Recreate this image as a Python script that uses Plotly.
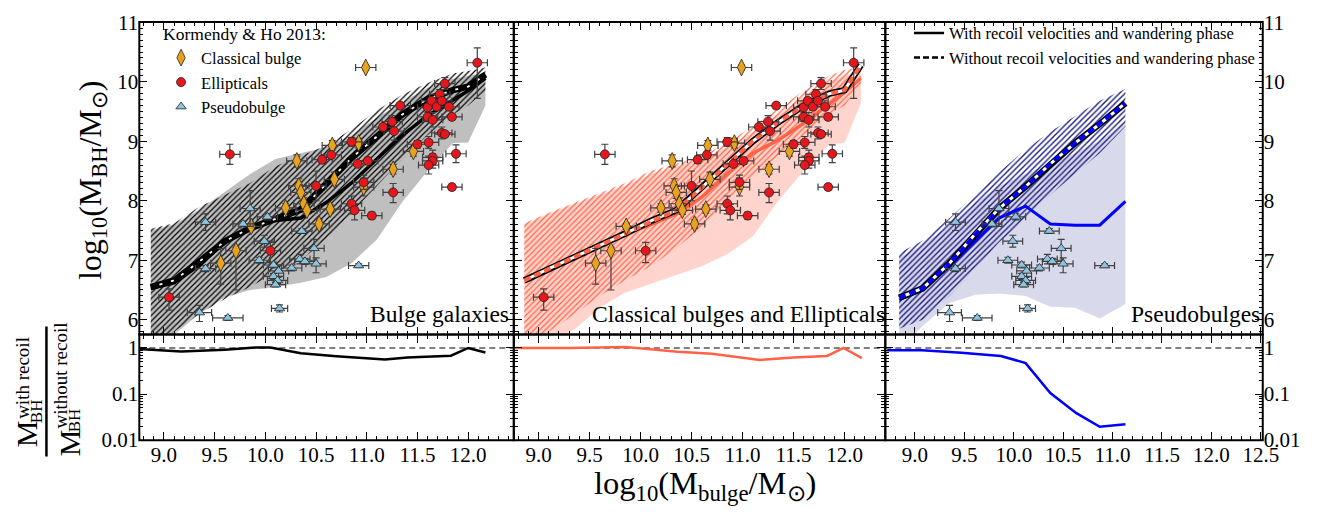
import plotly.graph_objects as go

# ---------------- Observational data: Kormendy & Ho 2013 ----------------
# Classical bulges
cb_x = [10.99, 10.66, 10.92, 10.31, 10.68, 10.33, 10.35, 10.38, 10.20, 10.41, 10.64, 10.53, 9.86, 9.71, 9.56, 10.97, 11.26, 11.46]
cb_y = [10.24, 8.93, 8.97, 8.67, 8.36, 8.25, 8.14, 7.95, 7.88, 7.84, 7.86, 7.61, 7.57, 7.16, 6.95, 8.23, 8.53, 8.83]
cb_ylo = [0.04, 0.08, 0.08, 0.10, 0.10, 0.12, 0.10, 0.10, 0.07, 0.07, 0.07, 0.07, 0.05, 0.66, 0.35, 0.15, 0.08, 0.08]
cb_yhi = [0.04, 0.08, 0.08, 0.10, 0.12, 0.12, 0.10, 0.10, 0.07, 0.07, 0.07, 0.07, 0.05, 0.06, 0.25, 0.15, 0.08, 0.08]
cb_xerr = [0.10] * 18

# Ellipticals
el_x = [9.65, 9.05, 10.05, 10.50, 10.56, 10.65, 10.85, 10.91, 11.01, 10.97, 10.85, 10.88, 11.05, 11.26, 11.16,
        11.25, 11.27, 11.33, 11.50, 11.61, 11.65, 11.65, 11.61, 11.60, 11.64, 11.69, 11.72, 11.74, 11.77, 11.81,
        11.60, 11.65, 11.84, 11.74, 11.77, 11.88, 11.84, 12.09]
el_y = [8.78, 6.38, 7.16, 8.25, 8.69, 8.77, 8.99, 8.62, 8.67, 8.31, 7.95, 7.84, 7.75, 8.14, 9.24,
        9.33, 9.17, 9.60, 8.95, 8.98, 8.73, 8.67, 8.60, 9.57, 9.68, 9.58, 9.79, 9.68, 9.97, 9.58,
        9.41, 9.36, 9.41, 9.14, 9.12, 8.79, 8.23, 10.32]
el_ylo = [0.17, 0.22, 0.20, 0.25, 0.06, 0.05, 0.07, 0.04, 0.06, 0.12, 0.17, 0.16, 0.06, 0.17, 0.05,
          0.10, 0.15, 0.05, 0.06, 0.10, 0.12, 0.12, 0.15, 0.05, 0.05, 0.05, 0.08, 0.05, 0.10, 0.05,
          0.08, 0.12, 0.05, 0.10, 0.05, 0.15, 0.05, 0.60]
el_yhi = [0.17, 0.14, 0.14, 0.25, 0.06, 0.05, 0.07, 0.04, 0.06, 0.12, 0.13, 0.10, 0.06, 0.15, 0.05,
          0.10, 0.15, 0.05, 0.06, 0.10, 0.12, 0.12, 0.15, 0.05, 0.05, 0.05, 0.08, 0.05, 0.10, 0.05,
          0.08, 0.12, 0.05, 0.10, 0.05, 0.15, 0.05, 0.25]
el_xerr = [0.10] * 38

# Pseudobulges
pb_x = [9.41, 9.85, 9.78, 10.02, 9.99, 9.41, 9.94, 10.08, 10.13, 10.08, 10.12, 10.10, 10.26, 10.34, 10.39,
        10.48, 10.50, 10.36, 10.92, 9.35, 9.63, 10.14]
pb_y = [7.64, 7.87, 7.61, 7.73, 7.32, 6.86, 7.00, 6.92, 6.82, 6.73, 6.66, 6.59, 6.87, 7.02, 6.98,
        7.20, 6.94, 7.49, 6.91, 6.12, 6.03, 6.19]
pb_ylo = [0.14, 0.30, 0.05, 0.05, 0.10, 0.05, 0.05, 0.05, 0.10, 0.05, 0.05, 0.04, 0.05, 0.08, 0.05,
          0.20, 0.15, 0.04, 0.03, 0.15, 0.04, 0.06]
pb_yhi = [0.14, 0.30, 0.05, 0.05, 0.10, 0.05, 0.05, 0.05, 0.10, 0.05, 0.05, 0.04, 0.05, 0.08, 0.05,
          0.15, 0.10, 0.04, 0.03, 0.12, 0.04, 0.06]
pb_xerr = [0.10, 0.10, 0.10, 0.10, 0.10, 0.10, 0.10, 0.10, 0.10, 0.10, 0.10, 0.10, 0.10, 0.10, 0.10,
           0.10, 0.10, 0.10, 0.10, 0.12, 0.15, 0.08]

# ---------------- Model: bulge galaxies ----------------
bg_x = [8.87, 9.1, 9.35, 9.6, 9.85, 10.1, 10.35, 10.6, 10.85, 11.1, 11.35, 11.6, 11.85, 12.0, 12.17]
bg_with_med = [6.53, 6.62, 6.92, 7.30, 7.56, 7.67, 7.71, 7.97, 8.30, 8.70, 9.10, 9.43, 9.70, 9.85, 10.06]
bg_with_hi = [7.50, 7.60, 7.85, 8.15, 8.45, 8.70, 8.80, 8.90, 9.10, 9.40, 9.65, 9.90, 10.05, 10.10, 10.15]
bg_with_lo = [5.50, 5.75, 6.10, 6.38, 6.50, 6.55, 6.62, 6.72, 6.95, 7.35, 7.98, 8.50, 8.97, 8.98, 9.60]
bg_wo_med = [6.55, 6.66, 6.98, 7.32, 7.54, 7.70, 7.85, 8.28, 8.72, 9.08, 9.45, 9.71, 9.86, 9.92, 10.12]
bg_wo_hi = [7.53, 7.62, 7.90, 8.10, 8.30, 8.58, 8.76, 8.93, 9.20, 9.52, 9.78, 9.98, 10.14, 10.18, 10.24]
bg_wo_lo = [5.50, 5.80, 6.10, 6.35, 6.55, 6.80, 7.00, 7.35, 7.80, 8.25, 8.70, 9.10, 9.45, 9.60, 9.85]
bg_ratio_x = [8.75, 9.17, 9.6, 9.9, 10.05, 10.35, 10.7, 11.18, 11.4, 11.83, 12.0, 12.17]
bg_ratio = [0.95, 0.84, 0.92, 1.02, 1.02, 0.77, 0.66, 0.56, 0.62, 0.68, 1.0, 0.80]

# ---------------- Model: classical bulges and ellipticals ----------------
ce_x = [8.86, 9.1, 9.36, 9.6, 9.84, 10.1, 10.35, 10.6, 10.85, 11.1, 11.35, 11.6, 11.85, 12.0, 12.16]
ce_with_med = [6.69, 6.87, 7.06, 7.25, 7.44, 7.60, 7.78, 8.06, 8.45, 8.80, 9.02, 9.30, 9.63, 9.82, 10.06]
ce_with_hi = [7.60, 7.78, 7.95, 8.10, 8.25, 8.45, 8.58, 8.70, 8.90, 9.15, 9.45, 9.75, 10.00, 10.10, 10.15]
ce_with_lo = [5.50, 5.60, 5.85, 6.20, 6.45, 6.60, 6.75, 6.90, 7.10, 7.40, 8.00, 8.50, 8.95, 8.97, 9.64]
ce_wo_med = [6.66, 6.86, 7.06, 7.25, 7.44, 7.66, 7.84, 8.22, 8.62, 9.00, 9.32, 9.60, 9.80, 9.86, 10.28]
ce_wo_hi = [7.62, 7.80, 7.97, 8.13, 8.29, 8.50, 8.62, 8.75, 8.98, 9.25, 9.55, 9.85, 10.10, 10.20, 10.25]
ce_wo_lo = [5.50, 5.80, 6.10, 6.40, 6.65, 6.90, 7.20, 7.55, 8.00, 8.40, 8.75, 9.10, 9.45, 9.60, 9.95]
ce_ratio_x = [8.75, 9.3, 9.86, 10.36, 10.7, 11.17, 11.5, 11.83, 11.99, 12.17]
ce_ratio = [1.0, 1.0, 1.05, 0.83, 0.75, 0.55, 0.62, 0.67, 1.0, 0.60]

# ---------------- Model: pseudobulges ----------------
ps_x = [8.84, 9.08, 9.35, 9.61, 9.85, 10.12, 10.37, 10.62, 10.87, 11.13]
ps_with_med = [6.34, 6.50, 6.90, 7.33, 7.71, 7.91, 7.61, 7.59, 7.59, 7.99]
ps_with_hi = [7.05, 7.25, 7.60, 7.95, 8.25, 8.45, 8.62, 8.80, 9.00, 9.31]
ps_with_lo = [5.50, 5.90, 6.28, 6.42, 6.44, 6.40, 6.22, 6.20, 6.02, 6.26]
ps_wo_med = [6.37, 6.53, 6.95, 7.44, 7.87, 8.24, 8.62, 8.97, 9.29, 9.64]
ps_wo_hi = [7.12, 7.33, 7.71, 8.10, 8.48, 8.86, 9.16, 9.42, 9.68, 9.88]
ps_wo_lo = [5.85, 6.00, 6.40, 6.85, 7.30, 7.70, 8.10, 8.45, 8.80, 9.25]
ps_ratio_x = [8.72, 9.07, 9.47, 9.87, 10.12, 10.37, 10.63, 10.87, 11.13]
ps_ratio = [0.89, 0.89, 0.79, 0.67, 0.47, 0.105, 0.039, 0.0195, 0.022]

# Axis tick labels
y_ticks_ratio = [0.01, 0.1, 1]
y_ticks_ratio_text = ["0.01", "0.1", "1"]

# ---------------- Layout geometry ----------------
W, H = 1341, 523
FONT = "Liberation Serif"


def fx(X):
    return X / W


def fy(Y):
    return 1 - Y / H


col_px = [(141, 520), (520, 896), (896, 1278)]
x_ranges = [[8.757, 12.45], [8.757, 12.40], [8.70, 12.52]]
TOP_Y0, MID_Y, BOT_Y1 = 11.5, 338.5, 449
top_dom = [fy(MID_Y), fy(TOP_Y0)]
bot_dom = [fy(BOT_Y1), fy(MID_Y)]

fig = go.Figure()

GRAY_FILL = "rgba(0,0,0,0.25)"
SALMON = "#ff6347"
NAVY = "#1c1c80"


def add_band(xs, lo, hi, xa, ya, fillcolor=None, pattern=None):
    xx = list(xs) + list(xs)[::-1]
    yy = list(hi) + list(lo)[::-1]
    tr = go.Scatter(x=xx, y=yy, mode="lines", line=dict(width=0, color="rgba(0,0,0,0)"),
                    fill="toself", hoverinfo="skip", showlegend=False, xaxis=xa, yaxis=ya)
    if pattern is not None:
        tr.fillcolor = "rgba(0,0,0,0)"
        tr.fillpattern = pattern
    else:
        tr.fillcolor = fillcolor
    fig.add_trace(tr)


def add_solid(xs, ys, color, width, xa, ya, dash=None):
    fig.add_trace(go.Scatter(x=xs, y=ys, mode="lines", line=dict(color=color, width=width, dash=dash),
                             showlegend=False, hoverinfo="skip", xaxis=xa, yaxis=ya))


def add_dashed(xs, ys, color, xa, ya, white_w, dash):
    add_solid(xs, ys, "black", 6.5, xa, ya)
    add_solid(xs, ys, "white", white_w, xa, ya)
    add_solid(xs, ys, color, 4.0, xa, ya, dash=dash)


def add_points(x, y, ylo, yhi, xerr, symbol, size, color, name, xa, ya, show):
    fig.add_trace(go.Scatter(
        x=x, y=y, mode="markers", name=name, legend="legend", showlegend=show,
        marker=dict(symbol=symbol, size=size, color=color, line=dict(color="#222222", width=0.8)),
        error_x=dict(type="data", array=xerr, color="#404040", thickness=1.2, width=3.5),
        error_y=dict(type="data", symmetric=False, array=yhi, arrayminus=ylo,
                     color="#404040", thickness=1.2, width=3.5),
        hoverinfo="skip", xaxis=xa, yaxis=ya))


CB_COL, EL_COL, PB_COL = "#e8a31e", "#e5161c", "#8cc3de"

# ---- Panel 1: bulge galaxies ----
add_band(bg_x, bg_with_lo, bg_with_hi, "x", "y", fillcolor=GRAY_FILL)
add_band(bg_x, bg_wo_lo, bg_wo_hi, "x", "y",
         pattern=dict(shape="/", fgcolor="black", bgcolor="rgba(0,0,0,0)", size=4, solidity=0.3,
                      fillmode="replace"))
add_solid(bg_x, bg_with_med, "black", 3.5, "x", "y")
add_dashed(bg_x, bg_wo_med, "black", "x", "y", 1.8, "9px,3px")
add_points(cb_x, cb_y, cb_ylo, cb_yhi, cb_xerr, "diamond-tall", 12, CB_COL, "Classical bulge", "x", "y", True)
add_points(el_x, el_y, el_ylo, el_yhi, el_xerr, "circle", 9, EL_COL, "Ellipticals", "x", "y", True)
add_points(pb_x, pb_y, pb_ylo, pb_yhi, pb_xerr, "triangle-up", 9, PB_COL, "Pseudobulge", "x", "y", True)

# ---- Panel 2: classical bulges and ellipticals ----
add_band(ce_x, ce_with_lo, ce_with_hi, "x2", "y2", fillcolor="rgba(255,99,71,0.28)")
add_band(ce_x, ce_wo_lo, ce_wo_hi, "x2", "y2",
         pattern=dict(shape="/", fgcolor=SALMON, bgcolor="rgba(0,0,0,0)", size=4, solidity=0.3,
                      fillmode="replace"))
add_solid(ce_x, ce_with_med, SALMON, 3.5, "x2", "y2")
add_dashed(ce_x, ce_wo_med, SALMON, "x2", "y2", 3.0, "7px,4px")
add_points(cb_x, cb_y, cb_ylo, cb_yhi, cb_xerr, "diamond-tall", 12, CB_COL, "Classical bulge", "x2", "y2", False)
add_points(el_x, el_y, el_ylo, el_yhi, el_xerr, "circle", 9, EL_COL, "Ellipticals", "x2", "y2", False)

# ---- Panel 3: pseudobulges ----
add_band(ps_x, ps_with_lo, ps_with_hi, "x3", "y3", fillcolor="rgba(0,0,128,0.15)")
add_band(ps_x, ps_wo_lo, ps_wo_hi, "x3", "y3",
         pattern=dict(shape="/", fgcolor=NAVY, bgcolor="rgba(0,0,0,0)", size=4, solidity=0.35,
                      fillmode="replace"))
add_solid(ps_x, ps_with_med, "#0000ff", 3.0, "x3", "y3")
add_dashed(ps_x, ps_wo_med, "#0000ff", "x3", "y3", 3.0, "7px,4px")
add_points(pb_x, pb_y, pb_ylo, pb_yhi, pb_xerr, "triangle-up", 9, PB_COL, "Pseudobulge", "x3", "y3", False)

# legend-only entries for line styles
fig.add_trace(go.Scatter(x=[None], y=[None], mode="lines", line=dict(color="black", width=2.5),
                         name="With recoil velocities and wandering phase", legend="legend2",
                         xaxis="x3", yaxis="y3"))
fig.add_trace(go.Scatter(x=[None], y=[None], mode="lines", line=dict(color="black", width=2.5, dash="6px,3px"),
                         name="Without recoil velocities and wandering phase", legend="legend2",
                         xaxis="x3", yaxis="y3"))

# ---- Ratio panels ----
ratio_sets = [(bg_ratio_x, bg_ratio, "black", "x4", "y4"),
              (ce_ratio_x, ce_ratio, SALMON, "x5", "y5"),
              (ps_ratio_x, ps_ratio, "#0000ff", "x6", "y6")]
for i, (rx, ry, col, xa, ya) in enumerate(ratio_sets):
    xr = x_ranges[i]
    fig.add_trace(go.Scatter(x=[xr[0], xr[1]], y=[1, 1], mode="lines",
                             line=dict(color="gray", width=2, dash="6px,4px"),
                             showlegend=False, hoverinfo="skip", xaxis=xa, yaxis=ya))
    fig.add_trace(go.Scatter(x=rx, y=ry, mode="lines", line=dict(color=col, width=2.5),
                             showlegend=False, hoverinfo="skip", xaxis=xa, yaxis=ya))

# ---------------- Axes (frames drawn as shapes) ----------------
tickfont = dict(family=FONT, size=21, color="black")
base = dict(showline=False, mirror="ticks", ticks="inside",
            ticklen=8, tickwidth=1.2, tickcolor="black", showgrid=False, zeroline=False,
            tickfont=tickfont)
minor_lin = dict(ticks="inside", ticklen=4, tickwidth=0.8, tickcolor="black", dtick=0.1, showgrid=False)
minor_log = [m * d for d in (0.01, 0.1) for m in range(2, 10)]

layout_axes = {}
for i in range(3):
    dom = [fx(col_px[i][0]), fx(col_px[i][1])]
    xa_top = "xaxis" if i == 0 else f"xaxis{i + 1}"
    ya_top = "yaxis" if i == 0 else f"yaxis{i + 1}"
    xa_bot = f"xaxis{i + 4}"
    ya_bot = f"yaxis{i + 4}"
    top_y_id = "y" if i == 0 else f"y{i + 1}"
    top_x_id = "x" if i == 0 else f"x{i + 1}"
    layout_axes[xa_top] = dict(base, domain=dom, anchor=top_y_id, range=x_ranges[i],
                               tickmode="linear", tick0=9.0, dtick=0.5, showticklabels=False,
                               minor=minor_lin)
    layout_axes[ya_top] = dict(base, domain=top_dom, anchor=top_x_id, range=[5.75, 11.005],
                               tickmode="linear", tick0=6, dtick=1,
                               showticklabels=(i != 1), side=("right" if i == 2 else "left"),
                               minor=minor_lin)
    layout_axes[xa_bot] = dict(base, domain=dom, anchor=f"y{i + 4}", range=x_ranges[i],
                               tickmode="linear", tick0=9.0, dtick=0.5, tickformat=".1f",
                               showticklabels=True, minor=minor_lin)
    layout_axes[ya_bot] = dict(base, domain=bot_dom, anchor=f"x{i + 4}", type="log", range=[-2.003, 0.29],
                               tickmode="array", tickvals=y_ticks_ratio, ticktext=y_ticks_ratio_text,
                               showticklabels=(i != 1), side=("right" if i == 2 else "left"),
                               minor=dict(ticks="inside", ticklen=4, tickwidth=0.8, tickcolor="black",
                                          tickmode="array", tickvals=minor_log, showgrid=False))

fig.update_layout(**layout_axes)

shapes = []
for (X0, X1) in col_px:
    for (Y0, Y1) in [(TOP_Y0, MID_Y), (MID_Y, BOT_Y1)]:
        shapes.append(dict(type="rect", xref="paper", yref="paper", x0=fx(X0), x1=fx(X1),
                           y0=fy(Y1), y1=fy(Y0), line=dict(color="black", width=2),
                           fillcolor="rgba(0,0,0,0)", layer="above"))
# fraction bar of the ratio label
shapes.append(dict(type="line", xref="paper", yref="paper", x0=fx(47), x1=fx(47), y0=fy(330), y1=fy(466),
                   line=dict(color="black", width=2.5)))


# ---------------- Text ----------------
def txt(text, X, Y, size, angle=0):
    return dict(text=text, xref="paper", yref="paper", x=fx(X), y=fy(Y), textangle=angle,
                showarrow=False, xanchor="center", yanchor="middle",
                font=dict(family=FONT, size=size, color="black"))


annotations = [
    txt("Bulge galaxies", 445, 317, 23.5),
    txt("Classical bulges and Ellipticals", 747, 317, 23.5),
    txt("Pseudobulges", 1210, 317, 23.5),
    txt("log<sub>10</sub>(M<sub>BH</sub>/M<sub>⊙</sub>)", 93, 177, 32, -90),
    txt("log<sub>10</sub>(M<sub>bulge</sub>/M<sub>⊙</sub>)", 714, 496, 32.5),
    # ratio label, numerator
    txt("M", 27, 442, 30, -90),
    txt("with recoil", 22, 384, 19, -90),
    txt("BH", 37, 419, 17, -90),
    # ratio label, denominator
    txt("M", 70, 452, 30, -90),
    txt("without recoil", 61, 381, 19, -90),
    txt("BH", 75, 428, 17, -90),
]

fig.update_layout(
    width=W, height=H, margin=dict(l=0, r=0, t=0, b=0),
    paper_bgcolor="white", plot_bgcolor="rgba(0,0,0,0)",
    font=dict(family=FONT, color="black"),
    annotations=annotations, shapes=shapes,
    legend=dict(x=fx(163), y=fy(7), xanchor="left", yanchor="top", bgcolor="rgba(0,0,0,0)",
                font=dict(family=FONT, size=16.5, color="black"),
                title=dict(text="Kormendy & Ho 2013:", font=dict(family=FONT, size=17.5, color="black")),
                tracegroupgap=0),
    legend2=dict(x=fx(920), y=fy(5), xanchor="left", yanchor="top", bgcolor="rgba(0,0,0,0)",
                 font=dict(family=FONT, size=16.5, color="black"), tracegroupgap=0),
)

fig.write_html("out.html")
